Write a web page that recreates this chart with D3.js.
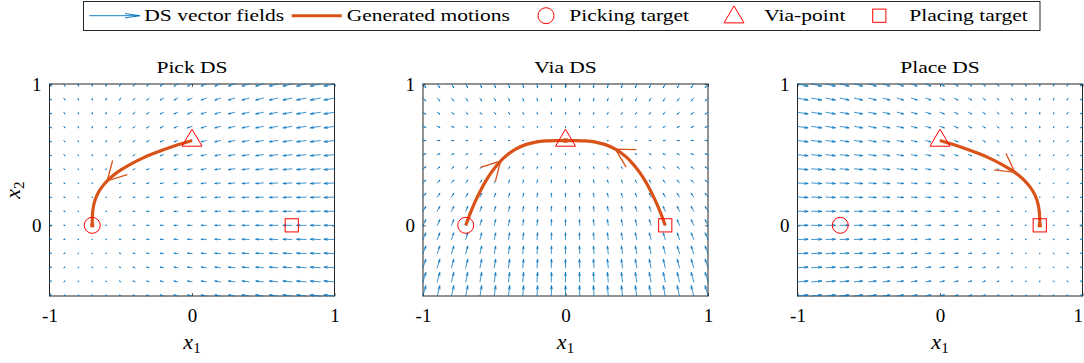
<!DOCTYPE html>
<html>
<head>
<meta charset="utf-8">
<script src="https://cdn.jsdelivr.net/npm/d3@7"></script>
<style>
  body { margin: 0; background: #fff; }
  svg { display: block; }
</style>
</head>
<body>
<svg id="chart" width="1084" height="363"></svg>
<script>
// ---- data -------------------------------------------------------------
const panelTitles = ["Pick DS", "Via DS", "Place DS"];
const legendLabels = ["DS vector fields", "Generated motions", "Picking target", "Via-point", "Placing target"];
const xTicks = [-1, 0, 1];
const yTicks = [0, 1];
const xDomain = [-1, 1];
const yDomain = [-0.5, 1];

// quiver sample grid
const gridX = [-1, -0.9, -0.8, -0.7, -0.6, -0.5, -0.4, -0.3, -0.2, -0.1, 0,
               0.1, 0.2, 0.3, 0.4, 0.5, 0.6, 0.7, 0.8, 0.9, 1];
const gridY = [-0.5, -0.4, -0.3, -0.2, -0.1, 0, 0.1, 0.2, 0.3, 0.4, 0.5,
               0.6, 0.7, 0.8, 0.9, 1];

// task points
const pickingTarget = [-0.7, 0];
const viaPoint = [0, 0.6];
const placingTarget = [0.7, 0];

// linear DS per panel: xdot = -diag(gain) * (x - attractor)
const dsAttractor = [pickingTarget, viaPoint, placingTarget];
const dsGain = [[1, 0.34], [0.3, 1], [1, 0.34]];

// generated motions (x1, x2)
const pickMotion = [[0, 0.6], [-0.07, 0.579], [-0.14, 0.556], [-0.21, 0.531], [-0.28, 0.504],
  [-0.35, 0.474], [-0.42, 0.439], [-0.49, 0.398], [-0.525, 0.375], [-0.56, 0.347],
  [-0.595, 0.315], [-0.63, 0.274], [-0.658, 0.231], [-0.679, 0.182], [-0.693, 0.125],
  [-0.698, 0.083], [-0.6997, 0.045], [-0.7, 0]];
const viaMotionLeft = [[-0.7, 0], [-0.665, 0.093], [-0.63, 0.176], [-0.595, 0.249], [-0.56, 0.313],
  [-0.525, 0.368], [-0.49, 0.415], [-0.455, 0.455], [-0.42, 0.489], [-0.35, 0.539],
  [-0.28, 0.571], [-0.21, 0.589], [-0.14, 0.597], [-0.07, 0.5997], [0, 0.6]];
const viaMotionRight = [[0.7, 0], [0.665, 0.093], [0.63, 0.176], [0.595, 0.249], [0.56, 0.313],
  [0.525, 0.368], [0.49, 0.415], [0.455, 0.455], [0.42, 0.489], [0.35, 0.539],
  [0.28, 0.571], [0.21, 0.589], [0.14, 0.597], [0.07, 0.5997], [0, 0.6]];
const placeMotion = [[0, 0.6], [0.07, 0.579], [0.14, 0.556], [0.21, 0.531], [0.28, 0.504],
  [0.35, 0.474], [0.42, 0.439], [0.49, 0.398], [0.525, 0.375], [0.56, 0.347],
  [0.595, 0.315], [0.63, 0.274], [0.658, 0.231], [0.679, 0.182], [0.693, 0.125],
  [0.698, 0.083], [0.6997, 0.045], [0.7, 0]];

const panelMotions = [[pickMotion], [viaMotionLeft, viaMotionRight], [placeMotion]];
const motionArrowAt = [[10], [7, 9], [8]];

// ---- style / layout ---------------------------------------------------
const blue = "#0072BD", orange = "#D95319", red = "#FF0000", axisColor = "#262626";
const serif = "'Liberation Serif', 'Times New Roman', 'DejaVu Serif', serif";
const textStretch = 1.23;
const panelLeft = [49.5, 423, 797.5];
const panelW = 285, panelTop = 84, panelH = 212;
const svgW = 1084;

const svg = d3.select("#chart");

// horizontally widened serif text
function wideText(parent, x, y, str, size, anchor, sx) {
  const g = parent.append("g").attr("transform", `translate(${x},${y}) scale(${sx || textStretch},1)`);
  return g.append("text")
    .attr("text-anchor", anchor || "start")
    .attr("font-family", serif)
    .attr("font-size", size)
    .attr("fill", "#000")
    .text(str);
}

function marker(parent, type, cx, cy) {
  if (type === "circle") {
    parent.append("circle").attr("cx", cx).attr("cy", cy).attr("r", 8)
      .attr("fill", "none").attr("stroke", red).attr("stroke-width", 1);
  } else if (type === "triangle") {
    const h = 17, w = 10;
    parent.append("path")
      .attr("d", `M${cx},${cy - h * 2 / 3}L${cx + w},${cy + h / 3}L${cx - w},${cy + h / 3}Z`)
      .attr("fill", "none").attr("stroke", red).attr("stroke-width", 1);
  } else {
    const s = 6.6;
    parent.append("rect").attr("x", cx - s).attr("y", cy - s).attr("width", 2 * s).attr("height", 2 * s)
      .attr("fill", "none").attr("stroke", red).attr("stroke-width", 1);
  }
}

const fmt = d => (d < 0 ? "-" + Math.abs(d) : String(d));

panelTitles.forEach((title, i) => {
  const x = d3.scaleLinear().domain(xDomain).range([panelLeft[i], panelLeft[i] + panelW]);
  const y = d3.scaleLinear().domain(yDomain).range([panelTop + panelH, panelTop]);
  const g = svg.append("g");

  // axes box
  g.append("rect")
    .attr("x", x(xDomain[0])).attr("y", y(yDomain[1]))
    .attr("width", panelW).attr("height", panelH)
    .attr("fill", "none").attr("stroke", axisColor).attr("stroke-width", 1);

  // ticks (inward) and labels
  const tl = 2.85;
  const ax = [
    g.append("g").attr("transform", `translate(0,${y(yDomain[0])})`)
      .call(d3.axisBottom(x).tickValues(xTicks).tickSizeInner(-tl).tickSizeOuter(0).tickPadding(12.2).tickFormat(fmt)),
    g.append("g").attr("transform", `translate(0,${y(yDomain[1])})`)
      .call(d3.axisTop(x).tickValues(xTicks).tickSizeInner(-tl).tickSizeOuter(0).tickFormat("")),
    g.append("g").attr("transform", `translate(${x(xDomain[0])},0)`)
      .call(d3.axisLeft(y).tickValues(yTicks).tickSizeInner(-tl).tickSizeOuter(0).tickPadding(8).tickFormat(fmt)),
    g.append("g").attr("transform", `translate(${x(xDomain[1])},0)`)
      .call(d3.axisRight(y).tickValues(yTicks).tickSizeInner(-tl).tickSizeOuter(0).tickFormat(""))
  ];
  ax.forEach(a => {
    a.select(".domain").remove();
    a.selectAll("line").attr("stroke", axisColor).attr("stroke-width", 0.8);
    a.selectAll("text").attr("font-family", serif).attr("font-size", 19).attr("fill", "#000");
  });
  // keep the right-most tick label inside the canvas
  ax[0].selectAll(".tick").each(function () {
    const t = d3.select(this).select("text");
    const bb = this.getBoundingClientRect();
    if (bb.right > svgW - 0.5) t.attr("x", -(bb.right - svgW + 1));
  });

  // vector field
  const att = dsAttractor[i], gain = dsGain[i];
  const vecs = [];
  gridY.forEach(gy => gridX.forEach(gx => {
    vecs.push({ gx, gy, u: -gain[0] * (gx - att[0]), v: -gain[1] * (gy - att[1]) });
  }));
  const maxMag = d3.max(vecs, d => Math.hypot(d.u, d.v));
  const k = 0.075 / maxMag;
  const a = 0.3, b = 0.3;
  let dPath = "";
  vecs.forEach(d => {
    const x0 = x(d.gx), y0 = y(d.gy);
    const x1 = x(d.gx + d.u * k), y1 = y(d.gy + d.v * k);
    const du = x1 - x0, dv = y1 - y0;
    dPath += `M${x0},${y0}L${x1},${y1}`;
    dPath += `M${x1 - a * (du + b * dv)},${y1 - a * (dv - b * du)}L${x1},${y1}L${x1 - a * (du - b * dv)},${y1 - a * (dv + b * du)}`;
  });
  g.append("path").attr("d", dPath)
    .attr("fill", "none").attr("stroke", blue).attr("stroke-width", 0.75)
    .attr("stroke-linecap", "square");

  // generated motions
  const line = d3.line().x(p => x(p[0])).y(p => y(p[1])).curve(d3.curveCatmullRom.alpha(0.5));
  panelMotions[i].forEach((pts, j) => {
    g.append("path").attr("d", line(pts))
      .attr("fill", "none").attr("stroke", orange).attr("stroke-width", 3.2)
      .attr("stroke-linecap", "butt");
    // direction arrowhead
    const n = motionArrowAt[i][j];
    const tx = x(pts[n][0]), ty = y(pts[n][1]);
    const ang = Math.atan2(y(pts[n + 1][1]) - y(pts[n - 1][1]), x(pts[n + 1][0]) - x(pts[n - 1][0]));
    const L = 21, h = 29 * Math.PI / 180;
    const p1 = [tx - L * Math.cos(ang - h), ty - L * Math.sin(ang - h)];
    const p2 = [tx - L * Math.cos(ang + h), ty - L * Math.sin(ang + h)];
    g.append("path").attr("d", `M${p1}L${tx},${ty}L${p2}`)
      .attr("fill", "none").attr("stroke", orange).attr("stroke-width", 1.3);
    const end = pts[pts.length - 1];
    g.append("rect").attr("x", x(end[0]) - 2).attr("y", y(end[1]) - 2)
      .attr("width", 4).attr("height", 4).attr("fill", orange);
  });

  // task markers
  marker(g, "circle", x(pickingTarget[0]), y(pickingTarget[1]));
  marker(g, "triangle", x(viaPoint[0]), y(viaPoint[1]));
  marker(g, "square", x(placingTarget[0]), y(placingTarget[1]));

  // title
  wideText(g, (x(xDomain[0]) + x(xDomain[1])) / 2, 73.3, title, 17.5, "middle");

  // x label
  const cx = (x(xDomain[0]) + x(xDomain[1])) / 2;
  const xl = g.append("text").attr("x", cx).attr("y", 349).attr("text-anchor", "middle")
    .attr("font-family", serif).attr("fill", "#000");
  xl.append("tspan").attr("font-style", "italic").attr("font-size", 22).text("x");
  xl.append("tspan").attr("font-size", 15).attr("dy", 4).text("1");

  if (i === 0) {
    const yl = g.append("text")
      .attr("transform", `translate(20,${(y(yDomain[0]) + y(yDomain[1])) / 2}) rotate(-90)`)
      .attr("text-anchor", "middle").attr("font-family", serif).attr("fill", "#000");
    yl.append("tspan").attr("font-style", "italic").attr("font-size", 22).text("x");
    yl.append("tspan").attr("font-size", 15).attr("dy", 4).text("2");
  }
});

// ---- legend -----------------------------------------------------------
const lg = svg.append("g");
lg.append("rect").attr("x", 83.5).attr("y", 1.5).attr("width", 956.5).attr("height", 29)
  .attr("fill", "#fff").attr("stroke", axisColor).attr("stroke-width", 1);
const ly = 15.7, lb = 20.5;
// quiver icon
lg.append("path").attr("d", `M89.3,${ly}L140,${ly}M125,${ly - 2.2}L140,${ly}L125,${ly + 2.2}`)
  .attr("fill", "none").attr("stroke", blue).attr("stroke-width", 0.9);
// motion icon
lg.append("line").attr("x1", 291.7).attr("x2", 341.7).attr("y1", ly).attr("y2", ly)
  .attr("stroke", orange).attr("stroke-width", 3);
marker(lg, "circle", 546, ly);
marker(lg, "triangle", 734, ly + 1.5);
marker(lg, "square", 879.3, ly);
const legendTextX = [144.3, 346.7, 569.3, 764.3, 909.3];
legendLabels.forEach((t, i) => wideText(lg, legendTextX[i], lb, t, 17.5, "start"));
</script>
</body>
</html>
